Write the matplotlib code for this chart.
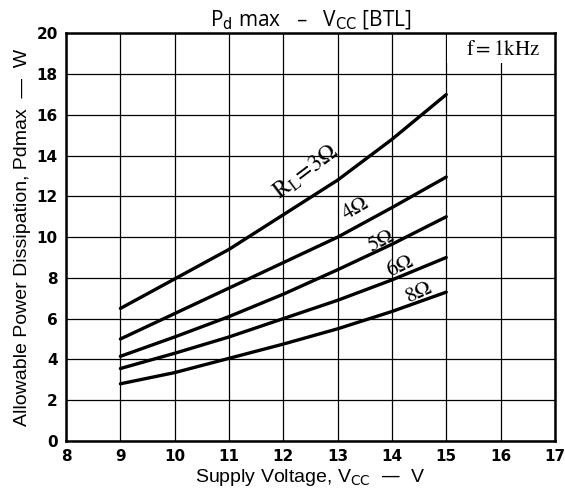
import matplotlib
matplotlib.use("Agg")
import matplotlib.pyplot as plt
from matplotlib.font_manager import FontProperties
from matplotlib.patches import Rectangle

vcc = [9, 10, 11, 12, 13, 14, 15]
pd_3ohm = [6.5, 7.95, 9.4, 11.1, 12.8, 14.8, 17.0]
pd_4ohm = [5.0, 6.25, 7.5, 8.75, 10.0, 11.45, 12.95]
pd_5ohm = [4.15, 5.1, 6.1, 7.2, 8.4, 9.65, 11.0]
pd_6ohm = [3.55, 4.3, 5.1, 6.0, 6.9, 7.9, 9.0]
pd_8ohm = [2.8, 3.35, 4.05, 4.75, 5.5, 6.35, 7.3]
series = [pd_3ohm, pd_4ohm, pd_5ohm, pd_6ohm, pd_8ohm]
labels = [r"$\mathrm{R_L\!=\!3\Omega}$", r"$4\Omega$", r"$5\Omega$", r"$6\Omega$", r"$8\Omega$"]
label_pos = [(12.42, 13.2, 37), (13.33, 11.45, 30), (13.8, 9.85, 27), (14.15, 8.6, 26), (14.5, 7.3, 24)]
label_size = [17, 15.5, 15.5, 15.5, 15.5]
x_ticks = list(range(8, 18))
y_ticks = list(range(0, 21, 2))

fig = plt.figure(figsize=(5.65, 4.92), dpi=100)
ax = fig.add_axes([0.117, 0.104, 0.865, 0.828])

for s in series:
    ax.plot(vcc, s, color='black', lw=2.4, solid_capstyle='round', zorder=3)

for lab, (x, y, r), fs in zip(labels, label_pos, label_size):
    ax.text(x, y, lab, rotation=r, ha='center', va='center',
            fontproperties=FontProperties(family='serif', size=fs, math_fontfamily='stix'),
            color='black', rotation_mode='anchor', zorder=4)

ax.set_xlim(8, 17)
ax.set_ylim(0, 20)
ax.set_xticks(x_ticks)
ax.set_yticks(y_ticks)
ax.set_xticklabels([str(t) for t in x_ticks], fontweight='bold', fontsize=11)
ax.set_yticklabels([str(t) for t in y_ticks], fontweight='bold', fontsize=11)
ax.tick_params(length=0, pad=6)
ax.grid(True, color='black', lw=0.9, zorder=1)
ax.set_axisbelow(True)
for sp in ax.spines.values():
    sp.set_linewidth(1.8)

ax.add_patch(Rectangle((15.02, 18.55), 1.98, 1.45, facecolor='white', edgecolor='none', zorder=2))
ax.text(16.05, 19.2, r"$\mathrm{f=1kHz}$", ha='center', va='center',
        fontproperties=FontProperties(family='serif', size=15, math_fontfamily='stix'), zorder=5)

ax.set_title(r"P$_\mathrm{d}$ max   –   V$_\mathrm{CC}$ [BTL]", pad=5,
             fontproperties=FontProperties(family='Open Sans', size=15, math_fontfamily='dejavusans'))
ax.set_xlabel(r"Supply Voltage, V$_{\mathrm{CC}}$  —  V", labelpad=2,
              fontproperties=FontProperties(family='Liberation Sans', size=14, math_fontfamily='dejavusans'))
ax.set_ylabel("Allowable Power Dissipation, Pdmax  —  W", labelpad=4,
              fontproperties=FontProperties(family='Liberation Sans', size=14))

fig.savefig("out.png", dpi=100)
